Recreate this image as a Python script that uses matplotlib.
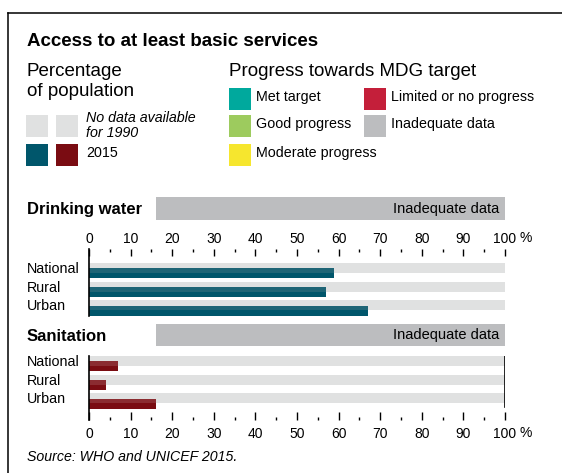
import matplotlib
matplotlib.use("Agg")
import matplotlib.pyplot as plt
from matplotlib.patches import Rectangle
from matplotlib.lines import Line2D
from matplotlib.transforms import blended_transform_factory

plt.rcParams['font.family'] = ['Liberation Sans', 'DejaVu Sans']

# datos
categorias = ["National", "Rural", "Urban"]
agua_1990 = [100, 100, 100]        # sin datos para 1990 -> banda completa gris
agua_2015 = [59, 57, 67]
saneamiento_1990 = [100, 100, 100]
saneamiento_2015 = [7, 4, 16]
ticks = [0, 10, 20, 30, 40, 50, 60, 70, 80, 90, 100]
tick_labels = ["0", "10", "20", "30", "40", "50", "60", "70", "80", "90", "100"]

W, H = 562, 473
fig = plt.figure(figsize=(W / 100, H / 100), dpi=100)

def fx(x):
    return x / W

def fy(y):
    return 1 - y / H

def texto(x, y, s, **kw):
    kw.setdefault('va', 'center')
    kw.setdefault('ha', 'left')
    fig.text(fx(x), fy(y), s, **kw)

def cuadro(x0, y0, x1, y1, color):
    fig.add_artist(Rectangle((fx(x0), fy(y1)), (x1 - x0) / W, (y1 - y0) / H,
                             transform=fig.transFigure, color=color, lw=0))

GRIS_CLARO = '#e0e1e1'
GRIS = '#bcbdbf'
AZUL = '#00566b'
AZUL_CLARO = '#1f6576'
ROJO = '#7a0c12'
ROJO_CLARO = '#8b2c31'

# marco
fig.add_artist(Line2D([fx(8), fx(562)], [fy(13), fy(13)], color='black', lw=1.1))
fig.add_artist(Line2D([fx(8), fx(8)], [fy(13), fy(473)], color='black', lw=1.1))

# titulo y leyendas
texto(27, 41, "Access to at least basic services", fontsize=13.5, fontweight='bold')
texto(27, 71, "Percentage", fontsize=13.5)
texto(27, 91, "of population", fontsize=13.5)
texto(229, 71, "Progress towards MDG target", fontsize=13.5)

cuadro(26, 115, 48, 137, GRIS_CLARO)
cuadro(56, 115, 78, 137, GRIS_CLARO)
cuadro(26, 144, 48, 166, AZUL)
cuadro(56, 144, 78, 166, ROJO)
texto(86, 118, "No data available", fontsize=10.3, style='italic')
texto(86, 133, "for 1990", fontsize=10.3, style='italic')
texto(86, 153, "2015", fontsize=10.3)

leyenda = [
    (229, 88, '#00a99d', "Met target"),
    (229, 115, '#9dcb5e', "Good progress"),
    (229, 144, '#f6e62e', "Moderate progress"),
    (364, 88, '#c41f3a', "Limited or no progress"),
    (364, 115, GRIS, "Inadequate data"),
]
for x, y, c, s in leyenda:
    cuadro(x, y, x + 22, y + 22, c)
    texto(x + 27, y + 9, s, fontsize=10.3)

# encabezados de seccion
def encabezado(y0, y1, titulo):
    texto(27, (y0 + y1) / 2 + 1, titulo, fontsize=12, fontweight='bold')
    cuadro(156, y0, 505, y1, GRIS)
    texto(499, (y0 + y1) / 2, "Inadequate data", fontsize=10.5, ha='right')

encabezado(197, 220, "Drinking water")
encabezado(324, 346, "Sanitation")

def seccion(top, bottom, banda_top, fondo, valores, color, color_claro, arriba, right_end):
    ax = fig.add_axes([fx(89), fy(bottom), (505 - 89) / W, (bottom - top) / H])
    ax.set_xlim(0, 100)
    ax.set_ylim(bottom, top)
    paso = 18.6
    for i, cat in enumerate(categorias):
        yb = banda_top + i * paso
        ax.barh(yb + 5, fondo[i], height=10, color=GRIS_CLARO, left=0)
        ax.barh(yb + 5.5 + 5, valores[i], height=10, color=color)
        ax.barh(yb + 5.5 + 2.25, valores[i], height=4.5, color=color_claro)
        tr = blended_transform_factory(fig.transFigure, ax.transData)
        ax.text(fx(27), yb + 6, cat, transform=tr, fontsize=10.3, va='center', ha='left')
    for s in ['top', 'bottom', 'right']:
        ax.spines[s].set_visible(False)
    ax.spines['left'].set_linewidth(1.2)
    ax.axvline(100, ymin=(bottom - right_end) / (bottom - top), ymax=1, color='black', lw=1.2)
    ax.set_yticks([])
    ax.set_xticks(ticks)
    ax.set_xticks([5, 15, 25, 35, 45, 55, 65, 75, 85, 95], minor=True)
    ax.set_xticklabels(tick_labels, fontsize=10)
    if arriba:
        ax.xaxis.tick_top()
        ax.tick_params(axis='x', which='major', direction='in', length=5, width=1, pad=2.5)
        ax.tick_params(axis='x', which='minor', direction='in', length=2.2, width=1)
        texto(520, 238, "%", fontsize=10)
    else:
        ax.tick_params(axis='x', which='major', direction='in', length=5.5, width=1, pad=5)
        ax.tick_params(axis='x', which='minor', direction='in', length=2.2, width=1)
        texto(520, 433, "%", fontsize=10)
    ax.patch.set_alpha(0)
    return ax

ax1 = seccion(249, 316, 263, agua_1990, agua_2015, AZUL, AZUL_CLARO, True, 249)
ax2 = seccion(356, 420, 356, saneamiento_1990, saneamiento_2015, ROJO, ROJO_CLARO, False, 407)

texto(27, 457, "Source: WHO and UNICEF 2015.", fontsize=10.2, style='italic')

fig.savefig("out.png", dpi=100)
